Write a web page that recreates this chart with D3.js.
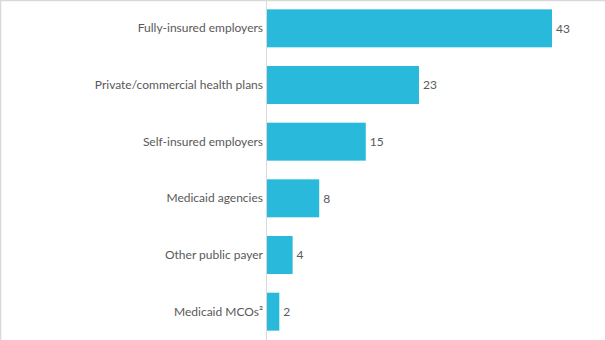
<!DOCTYPE html>
<html>
<head>
<meta charset="utf-8">
<script src="https://cdn.jsdelivr.net/npm/d3@7"></script>
<style>
  html, body { margin: 0; padding: 0; background: #fff; }
  svg { display: block; }
  text { font-family: Lato, "Open Sans", sans-serif; }
</style>
</head>
<body>
<div id="chart"></div>
<script>
const categories = [
  "Fully-insured employers",
  "Private/commercial health plans",
  "Self-insured employers",
  "Medicaid agencies",
  "Other public payer",
  "Medicaid MCOs\u00B2"
];
const values = [43, 23, 15, 8, 4, 2];

const W = 605, H = 340;
const svg = d3.select("#chart").append("svg").attr("width", W).attr("height", H);

const x = d3.scaleLinear().domain([0, 43]).range([266, 552]);
const y = d3.scaleBand().domain(categories).range([0, H]).paddingInner(0.33).paddingOuter(0.165);

// border (top and left)
svg.append("line").attr("x1", 0).attr("x2", W).attr("y1", 0.5).attr("y2", 0.5)
  .attr("stroke", "#d9d9d9").attr("stroke-width", 1.5);
svg.append("line").attr("x1", 0.5).attr("x2", 0.5).attr("y1", 0).attr("y2", H)
  .attr("stroke", "#d9d9d9").attr("stroke-width", 1.5);

// bars
svg.selectAll("rect.bar").data(categories).join("rect")
  .attr("class", "bar")
  .attr("x", x(0))
  .attr("y", d => y(d))
  .attr("width", (d, i) => x(values[i]) - x(0))
  .attr("height", y.bandwidth())
  .attr("fill", "#29B9DB");

// axis
const axis = svg.append("g").attr("transform", `translate(${x(0)},0)`)
  .call(d3.axisLeft(y).tickSize(0).tickPadding(3));
axis.select(".domain").attr("stroke", "#d9d9d9").attr("d", `M0.5,0V${H}`);
axis.selectAll("text").attr("fill", "#595959").style("font-size", "12px")
  .style("font-family", "Lato, 'Open Sans', sans-serif");

// value labels
svg.selectAll("text.val").data(categories).join("text")
  .attr("class", "val")
  .attr("x", (d, i) => x(values[i]) + 4)
  .attr("y", d => y(d) + y.bandwidth() / 2)
  .attr("dy", "0.35em")
  .attr("fill", "#595959")
  .style("font-size", "12px")
  .text((d, i) => values[i]);
</script>
</body>
</html>
